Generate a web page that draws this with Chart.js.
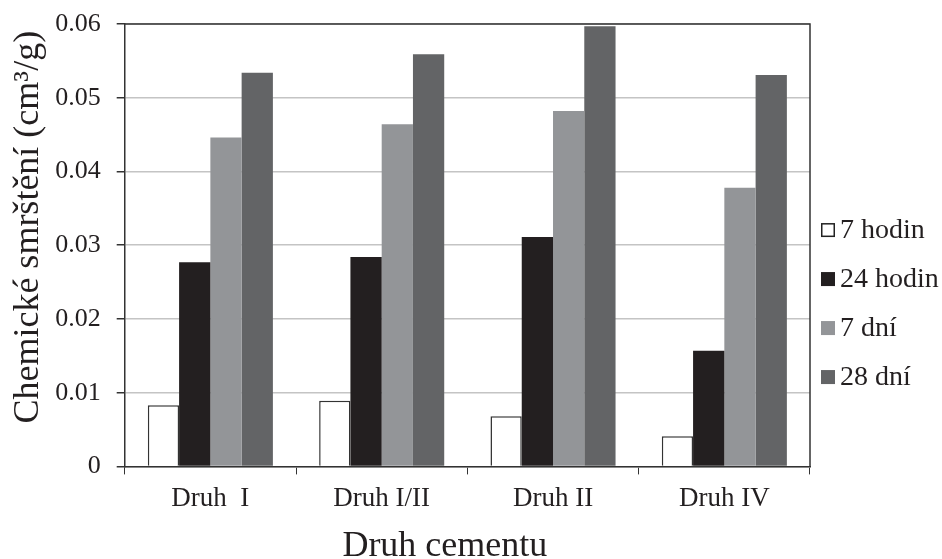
<!DOCTYPE html>
<html>
<head>
<meta charset="utf-8">
<script src="https://cdn.jsdelivr.net/npm/chart.js@4.4.1/dist/chart.umd.min.js"></script>
<style>
    body { margin: 0; background: #fff; }
    #wrap { width: 942px; height: 559px; }
</style>
</head>
<body>
<div id="wrap"><canvas id="chart" width="942" height="559"></canvas></div>
<script>
const categories = ['Druh  I', 'Druh I/II', 'Druh II', 'Druh IV'];
const seriesNames = ['7 hodin', '24 hodin', '7 dní', '28 dní'];
const hours7 = [0.0083, 0.0089, 0.0068, 0.0041];
const hours24 = [0.0277, 0.0284, 0.0311, 0.0157];
const days7 = [0.0446, 0.0464, 0.0482, 0.0378];
const days28 = [0.0534, 0.0559, 0.0597, 0.0531];
const yTicks = [0, 0.01, 0.02, 0.03, 0.04, 0.05, 0.06];
const yTickLabels = ['0', '0.01', '0.02', '0.03', '0.04', '0.05', '0.06'];

const serif = '"Liberation Serif", "DejaVu Serif", serif';
const ink = '#231f20';

// top and right edges of the plot frame
const frame = {
    id: 'frame',
    afterDraw(chart) {
        const { ctx, chartArea } = chart;
        ctx.save();
        ctx.strokeStyle = '#333';
        ctx.lineWidth = 1.5;
        ctx.beginPath();
        ctx.moveTo(chartArea.left, chartArea.top);
        ctx.lineTo(chartArea.right, chartArea.top);
        ctx.lineTo(chartArea.right, chartArea.bottom);
        ctx.stroke();
        ctx.restore();
    }
};

// legend to the right of the plot, squares close to the text
const sideLegend = {
    id: 'sideLegend',
    afterDraw(chart) {
        const { ctx, chartArea } = chart;
        const x = chartArea.right + 11;
        ctx.save();
        ctx.font = '28px ' + serif;
        ctx.textBaseline = 'middle';
        chart.data.datasets.forEach((ds, i) => {
            const cy = chartArea.top + 206 + i * 49;
            ctx.fillStyle = ds.backgroundColor;
            ctx.fillRect(x, cy - 7, 14, 14);
            if (i === 0) {
                ctx.strokeStyle = '#222';
                ctx.lineWidth = 1.5;
                ctx.strokeRect(x + 0.75, cy - 6.25, 12.5, 12.5);
            }
            ctx.fillStyle = ink;
            ctx.fillText(ds.label, x + 19, cy + 1);
        });
        ctx.restore();
    }
};

const bar = (i, data, fill, border, bw) => ({
    label: seriesNames[i],
    data: data,
    backgroundColor: fill,
    borderColor: border,
    borderWidth: bw,
    categoryPercentage: 0.73,
    barPercentage: 1.0,
});

new Chart(document.getElementById('chart'), {
    type: 'bar',
    data: {
        labels: categories,
        datasets: [
            bar(0, hours7, '#ffffff', '#333333', 1.5),
            bar(1, hours24, ink, ink, 0),
            bar(2, days7, '#939598', '#939598', 0),
            bar(3, days28, '#636466', '#636466', 0),
        ]
    },
    options: {
        responsive: false,
        animation: false,
        layout: { padding: { top: 3, right: 132, bottom: 0, left: 4 } },
        plugins: {
            tooltip: { enabled: false },
            legend: { display: false }
        },
        scales: {
            x: {
                grid: {
                    display: true,
                    offset: true,
                    drawOnChartArea: false,
                    tickColor: '#333',
                    tickLength: 8,
                },
                border: { color: '#333', width: 1.5 },
                ticks: {
                    font: { family: serif, size: 27, lineHeight: 1 },
                    color: ink,
                    padding: 11,
                },
                title: {
                    display: true,
                    // trailing spaces nudge the title left, as in the original
                    text: 'Druh cementu     ',
                    font: { family: serif, size: 36, lineHeight: 0.85 },
                    color: ink,
                    padding: { top: 8, bottom: -3 },
                }
            },
            y: {
                min: 0,
                max: 0.06,
                afterBuildTicks: (axis) => {
                    axis.ticks = yTicks.map(v => ({ value: v }));
                },
                grid: {
                    color: '#c4c4c4',
                    lineWidth: 1.5,
                    tickColor: '#333',
                    tickLength: 8,
                },
                border: { color: '#333', width: 1.5 },
                ticks: {
                    font: { family: serif, size: 26, lineHeight: 0.62 },
                    color: ink,
                    padding: 16,
                    callback: (value, index) => yTickLabels[index],
                },
                title: {
                    display: true,
                    // leading spaces lift the rotated title, as in the original
                    text: '    Chemické smrštění (cm³/g)',
                    font: { family: serif, size: 36 },
                    color: ink,
                    padding: { top: 3, bottom: -11 },
                }
            }
        }
    },
    plugins: [frame, sideLegend]
});
</script>
</body>
</html>
